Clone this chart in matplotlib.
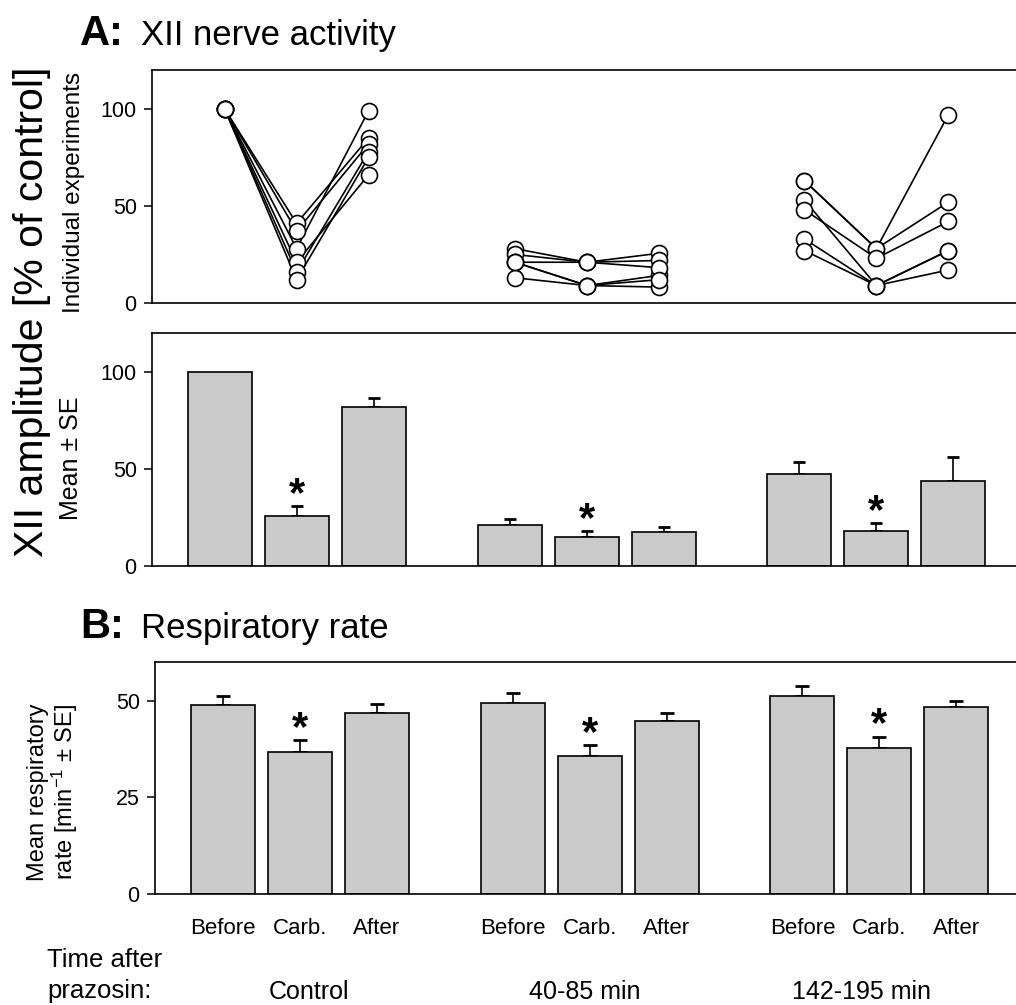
import matplotlib
matplotlib.use('Agg')
import matplotlib.pyplot as plt

plt.rcParams['font.family'] = ['Liberation Sans', 'DejaVu Sans']
plt.rcParams['mathtext.fontset'] = 'custom'
plt.rcParams['mathtext.rm'] = 'Liberation Sans'
plt.rcParams['mathtext.it'] = 'Liberation Sans:italic'
plt.rcParams['mathtext.bf'] = 'Liberation Sans:bold'

conditions = ['Before', 'Carb.', 'After']
groups = ['Control', '40-85 min', '142-195 min']

# individual experiments, XII amplitude (% of control): before, carb., after
indiv_control = [[100, 41, 85], [100, 37, 82], [100, 28, 99],
                 [100, 21, 66], [100, 16, 78], [100, 12, 75]]
indiv_40_85 = [[28, 21, 25.6], [25, 21, 21.9], [21, 9, 14.2],
               [21, 21, 18.2], [13, 9, 8.2], [21, 9, 12]]
indiv_142_195 = [[63, 28, 97], [63, 28, 52], [53, 9, 27],
                 [48, 23, 42], [33, 9, 27], [27, 9, 17]]

# mean +- SE of XII amplitude
amp_mean = [100, 26, 82, 21, 15, 17.3, 47.5, 18, 44]
amp_se = [0, 5, 4.3, 3, 3, 2.8, 6, 4, 12]

# mean respiratory rate (min^-1) +- SE
rate_mean = [48.9, 36.7, 46.8, 49.3, 35.8, 44.7, 51.3, 37.7, 48.3]
rate_se = [2.4, 3.0, 2.3, 2.6, 2.8, 2.0, 2.5, 3.0, 1.6]

sig = [False, True, False] * 3

xpos = [0, 1, 2, 3.77, 4.77, 5.77, 7.53, 8.53, 9.53]
centers = [xpos[1], xpos[4], xpos[7]]
xlim = (-0.878, 10.395)
barcol = '#cacaca'

fig = plt.figure(figsize=(10.16, 10.05), dpi=100)


def px_axes(left, top, bottom, right=1020):
    return fig.add_axes([left / 1016, 1 - bottom / 1005,
                         (right - left) / 1016, (bottom - top) / 1005])


def style(ax, ymax, ticks):
    ax.set_xlim(*xlim)
    ax.set_ylim(0, ymax)
    ax.set_yticks(ticks)
    for s in ax.spines.values():
        s.set_linewidth(1.2)
    ax.tick_params(axis='y', direction='out', length=6, width=1.1,
                   labelsize=15.5, pad=5, right=False)
    ax.tick_params(axis='x', bottom=False, top=False, labelbottom=False)


def stars(ax, tops, fs=30):
    for i, s in enumerate(sig):
        if s:
            ax.annotate('*', xy=(xpos[i], tops[i]),
                        xytext=(0, 17.5 - 0.58 * fs), textcoords='offset points',
                        ha='center', va='baseline', fontsize=fs, fontweight='bold')


# --- top panel: individual experiments
ax1 = px_axes(152, 70, 303)
style(ax1, 120, [0, 50, 100])
for c, data in zip(centers, [indiv_control, indiv_40_85, indiv_142_195]):
    xs = [c - 0.935, c, c + 0.935]
    for row in data:
        ax1.plot(xs, row, color='k', lw=1.2, zorder=2)
    for row in data:
        ax1.plot(xs, row, ls='none', marker='o', ms=11.5, mfc='white',
                 mec='k', mew=1.2, zorder=3)

# --- middle panel: mean +- SE amplitude
ax2 = px_axes(152, 333, 566)
style(ax2, 120, [0, 50, 100])
ax2.bar(xpos, amp_mean, width=0.83, color=barcol, edgecolor='k', lw=1.2, zorder=2)
idx = [i for i in range(9) if amp_se[i] > 0]
ax2.errorbar([xpos[i] for i in idx], [amp_mean[i] for i in idx],
             yerr=[[0] * len(idx), [amp_se[i] for i in idx]], fmt='none',
             ecolor='k', elinewidth=1.2, capsize=4.5, capthick=2, zorder=1)
stars(ax2, [m + s for m, s in zip(amp_mean, amp_se)])

# --- bottom panel: respiratory rate
ax3 = px_axes(155, 662, 894, right=1023)
style(ax3, 60, [0, 25, 50])
ax3.bar(xpos, rate_mean, width=0.83, color=barcol, edgecolor='k', lw=1.2, zorder=2)
ax3.errorbar(xpos, rate_mean, yerr=[[0] * 9, rate_se], fmt='none',
             ecolor='k', elinewidth=1.2, capsize=5, capthick=2, zorder=1)
stars(ax3, [m + s for m, s in zip(rate_mean, rate_se)])
ax3.set_xticks(xpos)
ax3.set_xticklabels(conditions * 3)
ax3.tick_params(axis='x', bottom=True, length=0, labelbottom=True,
                labelsize=16, pad=17)


def ftext(x, y, s, **kw):
    return fig.text(x / 1016, 1 - y / 1005, s, **kw)


# titles
ftext(80, 45, 'A:', fontsize=30, fontweight='bold', va='baseline')
ftext(141, 45, 'XII nerve activity', fontsize=25, va='baseline')
ftext(80, 638, 'B:', fontsize=30, fontweight='bold', va='baseline')
ftext(141, 638, 'Respiratory rate', fontsize=25, va='baseline')

# y labels
rot = dict(rotation=90, rotation_mode='anchor', ha='center', va='baseline')
ftext(43, 312, 'XII amplitude [% of control]', fontsize=29.5, **rot)
ftext(80, 192, 'Individual experiments', fontsize=17.5, **rot)
ftext(78, 458, 'Mean ± SE', fontsize=18, **rot)
ftext(44, 792, 'Mean respiratory', fontsize=17, **rot)
ftext(73, 792, r'rate [min$^{-1}$ ± SE]', fontsize=17, **rot)

# group labels
ftext(47, 967, 'Time after', fontsize=18.5, va='baseline')
ftext(47, 998, 'prazosin:', fontsize=18.5, va='baseline')
for c, g, dx in zip(centers, groups, [0.12, -0.07, -0.23]):
    fig.text(ax3.transData.transform((c + dx, 0))[0] / 1016, 1 - 999 / 1005, g,
             fontsize=18, ha='center', va='baseline')

fig.savefig('out.png', dpi=100)
